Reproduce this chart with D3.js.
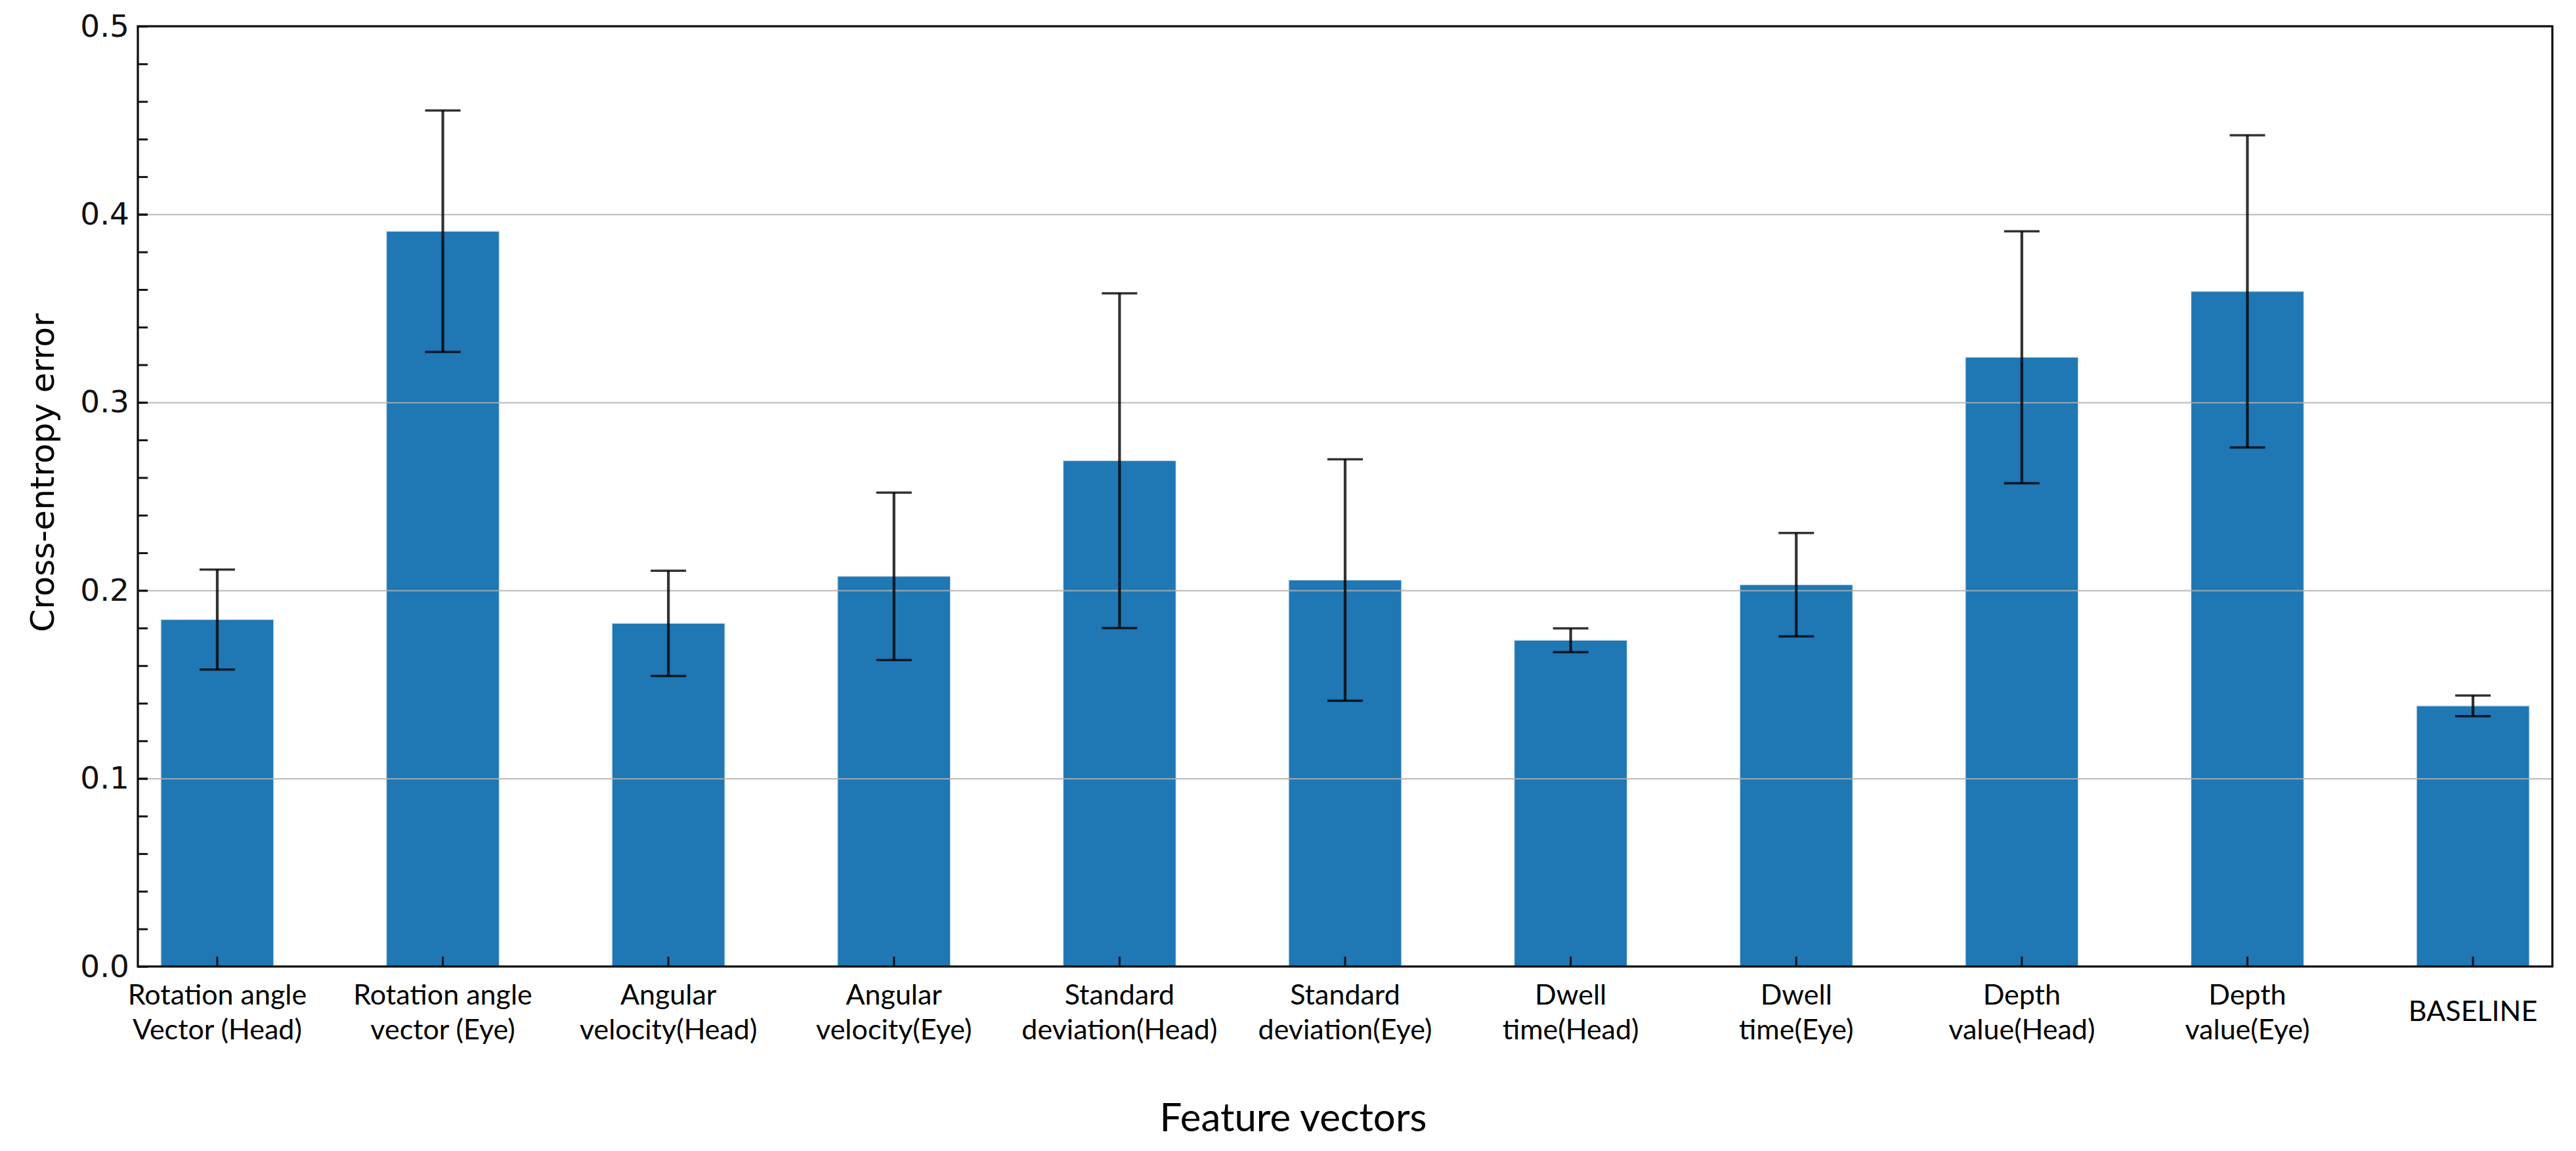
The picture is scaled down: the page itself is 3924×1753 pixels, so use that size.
<!doctype html>
<html lang="en">
  <head>
    <meta charset="utf-8">
    <title>cross-entropy bars</title>
    <style>
      body { margin: 0; background: #fff; }
      .tick text { font-family: "DejaVu Sans", sans-serif; font-size: 47px; fill: #111; }
      .xlab { font-family: Lato, sans-serif; font-size: 43px; fill: #000; }
      .axis-title { fill: #000; }
      .bar { fill: #1f77b4; stroke: #cfe0ee; stroke-width: 1.2; }
      .grid line { stroke: #b0b0b0; stroke-opacity: .8; stroke-width: 2.2; }
      .err { stroke: #000; stroke-opacity: .8; fill: none; }
    </style>
  </head>
  <body>
    <div class="chart"></div>
  <script src="https://cdn.jsdelivr.net/npm/d3@7"></script>
  <script>
    // feature names, two lines each (BASELINE has one)
    const labelTop = ['Rotation angle', 'Rotation angle', 'Angular', 'Angular', 'Standard',
      'Standard', 'Dwell', 'Dwell', 'Depth', 'Depth', 'BASELINE'];
    const labelBottom = ['Vector (Head)', 'vector (Eye)', 'velocity(Head)', 'velocity(Eye)',
      'deviation(Head)', 'deviation(Eye)', 'time(Head)', 'time(Eye)', 'value(Head)', 'value(Eye)', ''];
    const meanError = [0.1845, 0.391, 0.1825, 0.2075, 0.269, 0.2055, 0.1735, 0.203, 0.324, 0.359, 0.1386];
    const stdError = [0.0266, 0.0642, 0.028, 0.0445, 0.089, 0.0642, 0.0063, 0.0275, 0.067, 0.083, 0.0055];
    const yTicks = [0, 0.1, 0.2, 0.3, 0.4, 0.5];
    const gridTicks = [0.1, 0.2, 0.3, 0.4];

    const W = 3924, H = 1753;
    const margin = {top: 40, right: 36, bottom: 281, left: 210};
    const width = W - margin.left - margin.right;
    const height = H - margin.top - margin.bottom;

    const data = meanError.map((v, i) => ({
      key: i, top: labelTop[i], bottom: labelBottom[i], value: v, err: stdError[i]
    }));

    const x = d3.scaleBand()
        .domain(data.map(d => d.key))
        .range([0, width])
        .paddingInner(0.5)
        .paddingOuter(0.102);

    const y = d3.scaleLinear()
        .domain([0, 0.5])
        .range([height, 0]);

    const svg = d3.select('.chart').append('svg')
        .attr('width', W)
        .attr('height', H);

    const g = svg.append('g')
        .attr('transform', `translate(${margin.left},${margin.top})`);

    // bars
    g.selectAll('.bar')
      .data(data)
      .enter().append('rect')
        .attr('class', 'bar')
        .attr('x', d => x(d.key))
        .attr('y', d => y(d.value))
        .attr('width', x.bandwidth())
        .attr('height', d => y(0) - y(d.value));

    // grid sits on top of the bars, like in the original
    g.append('g')
        .attr('class', 'grid')
        .call(d3.axisLeft(y).tickValues(gridTicks).tickSize(-width).tickFormat(''))
        .call(a => a.select('.domain').remove());

    // error bars
    const capW = 54;
    const errG = g.append('g').attr('class', 'errs');
    data.forEach(d => {
      const cx = x(d.key) + x.bandwidth() / 2;
      errG.append('line').attr('class', 'err')
          .attr('x1', cx).attr('x2', cx)
          .attr('y1', y(d.value + d.err)).attr('y2', y(d.value - d.err))
          .attr('stroke-width', 4.2);
      [d.value + d.err, d.value - d.err].forEach(v => {
        errG.append('line').attr('class', 'err')
            .attr('x1', cx - capW / 2).attr('x2', cx + capW / 2)
            .attr('y1', y(v)).attr('y2', y(v))
            .attr('stroke-width', 3.5);
      });
    });

    // y axis: minor ticks every 0.02, labelled majors every 0.1
    g.append('g')
        .call(d3.axisLeft(y).tickValues(d3.range(0, 0.5001, 0.02)).tickSizeInner(-15).tickSizeOuter(0).tickFormat(''))
        .call(a => a.select('.domain').remove())
        .call(a => a.selectAll('.tick line').attr('stroke', '#111').attr('stroke-width', 3));

    g.append('g')
        .call(d3.axisLeft(y).tickValues(yTicks).tickSizeInner(-15).tickSizeOuter(0).tickPadding(13).tickFormat(d3.format('.1f')))
        .call(a => a.select('.domain').remove())
        .call(a => a.selectAll('.tick line').attr('stroke', '#111').attr('stroke-width', 3));

    // x axis ticks (inward), labels written separately
    g.append('g')
        .attr('transform', `translate(0,${height})`)
        .call(d3.axisBottom(x).tickSizeInner(-15).tickSizeOuter(0).tickFormat(''))
        .call(a => a.select('.domain').remove())
        .call(a => a.selectAll('.tick line').attr('stroke', '#111').attr('stroke-width', 3));

    const xl = g.append('g').attr('class', 'xlabels');
    data.forEach(d => {
      const cx = x(d.key) + x.bandwidth() / 2;
      if (d.bottom) {
        xl.append('text').attr('class', 'xlab').attr('text-anchor', 'middle')
            .attr('x', cx).attr('y', height + 58).text(d.top);
        xl.append('text').attr('class', 'xlab').attr('text-anchor', 'middle')
            .attr('x', cx).attr('y', height + 111).text(d.bottom);
      } else {
        xl.append('text').attr('class', 'xlab').attr('text-anchor', 'middle')
            .attr('x', cx).attr('y', height + 83).text(d.top);
      }
    });

    // frame
    g.append('rect')
        .attr('width', width)
        .attr('height', height)
        .attr('fill', 'none')
        .attr('stroke', '#111')
        .attr('stroke-width', 3.3);

    // axis titles
    svg.append('text')
        .attr('class', 'axis-title')
        .attr('transform', 'translate(82,720) rotate(-90)')
        .attr('text-anchor', 'middle')
        .style('font-family', '"DejaVu Sans", sans-serif')
        .style('font-size', '50px')
        .text('Cross-entropy error');

    svg.append('text')
        .attr('class', 'axis-title')
        .attr('x', 1970)
        .attr('y', 1723)
        .attr('text-anchor', 'middle')
        .style('font-family', 'Lato, sans-serif')
        .style('font-size', '60px')
        .text('Feature vectors');
  </script>
  </body>
</html>
